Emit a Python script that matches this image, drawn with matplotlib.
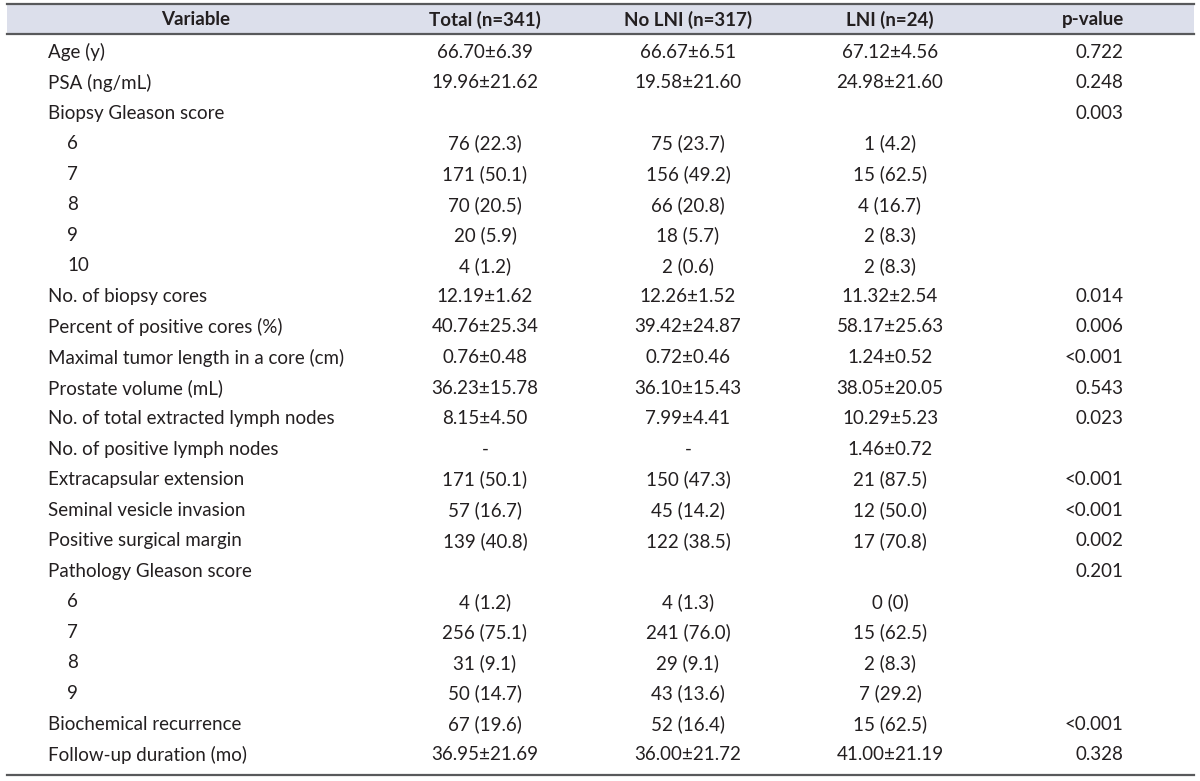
import matplotlib.pyplot as plt
from matplotlib.patches import Rectangle

# =========================================================
# Table data
# =========================================================

headers = ["Variable", "Total (n=341)", "No LNI (n=317)", "LNI (n=24)", "p-value"]

variables = [
    "Age (y)", "PSA (ng/mL)", "Biopsy Gleason score", "6", "7", "8", "9", "10",
    "No. of biopsy cores", "Percent of positive cores (%)",
    "Maximal tumor length in a core (cm)", "Prostate volume (mL)",
    "No. of total extracted lymph nodes", "No. of positive lymph nodes",
    "Extracapsular extension", "Seminal vesicle invasion",
    "Positive surgical margin", "Pathology Gleason score", "6", "7", "8", "9",
    "Biochemical recurrence", "Follow-up duration (mo)",
]

indented = [False, False, False, True, True, True, True, True,
            False, False, False, False, False, False, False, False,
            False, False, True, True, True, True, False, False]

total = [
    "66.70±6.39", "19.96±21.62", "", "76 (22.3)", "171 (50.1)", "70 (20.5)",
    "20 (5.9)", "4 (1.2)", "12.19±1.62", "40.76±25.34", "0.76±0.48",
    "36.23±15.78", "8.15±4.50", "-", "171 (50.1)", "57 (16.7)", "139 (40.8)",
    "", "4 (1.2)", "256 (75.1)", "31 (9.1)", "50 (14.7)", "67 (19.6)",
    "36.95±21.69",
]

no_lni = [
    "66.67±6.51", "19.58±21.60", "", "75 (23.7)", "156 (49.2)", "66 (20.8)",
    "18 (5.7)", "2 (0.6)", "12.26±1.52", "39.42±24.87", "0.72±0.46",
    "36.10±15.43", "7.99±4.41", "-", "150 (47.3)", "45 (14.2)", "122 (38.5)",
    "", "4 (1.3)", "241 (76.0)", "29 (9.1)", "43 (13.6)", "52 (16.4)",
    "36.00±21.72",
]

lni = [
    "67.12±4.56", "24.98±21.60", "", "1 (4.2)", "15 (62.5)", "4 (16.7)",
    "2 (8.3)", "2 (8.3)", "11.32±2.54", "58.17±25.63", "1.24±0.52",
    "38.05±20.05", "10.29±5.23", "1.46±0.72", "21 (87.5)", "12 (50.0)",
    "17 (70.8)", "", "0 (0)", "15 (62.5)", "2 (8.3)", "7 (29.2)", "15 (62.5)",
    "41.00±21.19",
]

p_values = [
    "0.722", "0.248", "0.003", "", "", "", "", "", "0.014", "0.006", "<0.001",
    "0.543", "0.023", "", "<0.001", "<0.001", "0.002", "0.201", "", "", "", "",
    "<0.001", "0.328",
]

# =========================================================
# Layout (pixel coordinates)
# =========================================================

W, H = 1200, 781
plt.rcParams["font.family"] = ["Lato", "DejaVu Sans"]
TEXT_COLOR = "#231f20"
LINE_COLOR = "#58595b"

fig = plt.figure(figsize=(W / 100, H / 100), dpi=100)
ax = fig.add_axes([0, 0, 1, 1])
ax.set_xlim(0, W)
ax.set_ylim(H, 0)
ax.axis("off")

# pick a font size so the longest label is as wide as in the reference (~295 px)
renderer = fig.canvas.get_renderer()
probe = ax.text(0, 0, "Maximal tumor length in a core (cm)", fontsize=10)
probe_w = probe.get_window_extent(renderer).width
probe.remove()
FS = 10 * 295 / probe_w

x_left, x_right = 7, 1194
y_top, y_head, y_bottom = 4, 34, 775

ax.add_patch(Rectangle((x_left, y_top), x_right - x_left, y_head - y_top,
                       facecolor="#dcdfeb", edgecolor="none"))
for y in (y_top, y_head, y_bottom):
    ax.plot([x_left, x_right], [y, y], color=LINE_COLOR, lw=1.6)

col_x = [196, 485, 688, 890, 1093]
p_right = 1123
for x, h in zip(col_x, headers):
    ax.text(x, 19.5, h, ha="center", va="center", fontsize=FS,
            fontweight="bold", color=TEXT_COLOR)

row_y0, row_step = 52, 30.55
for i, name in enumerate(variables):
    y = row_y0 + i * row_step
    ax.text(67 if indented[i] else 48, y, name, ha="left", va="center",
            fontsize=FS, color=TEXT_COLOR)
    ax.text(col_x[1], y, total[i], ha="center", va="center",
            fontsize=FS, color=TEXT_COLOR)
    ax.text(col_x[2], y, no_lni[i], ha="center", va="center",
            fontsize=FS, color=TEXT_COLOR)
    ax.text(col_x[3], y, lni[i], ha="center", va="center",
            fontsize=FS, color=TEXT_COLOR)
    ax.text(p_right, y, p_values[i], ha="right", va="center",
            fontsize=FS, color=TEXT_COLOR)

fig.savefig("out.png", dpi=100, facecolor="white")
